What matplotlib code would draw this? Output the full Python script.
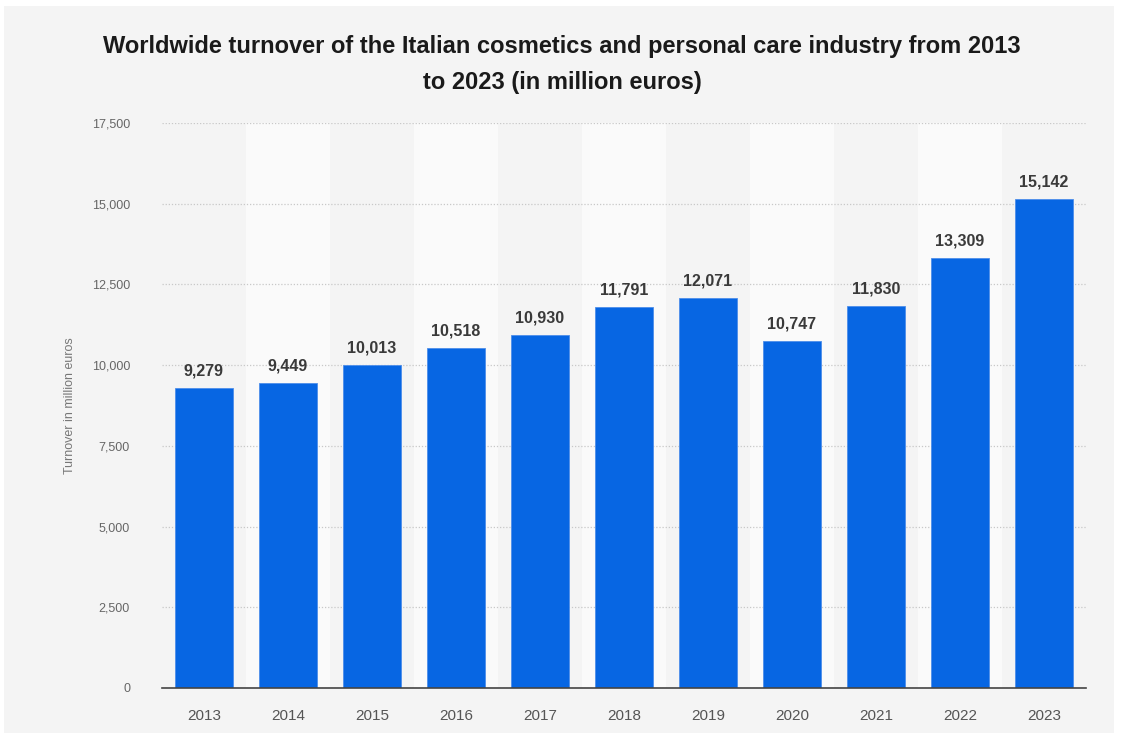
import matplotlib.pyplot as plt
from matplotlib.patches import Rectangle
from matplotlib.ticker import FuncFormatter

years = ['2013', '2014', '2015', '2016', '2017', '2018', '2019', '2020', '2021', '2022', '2023']
turnover = [9279, 9449, 10013, 10518, 10930, 11791, 12071, 10747, 11830, 13309, 15142]
yticks = [0, 2500, 5000, 7500, 10000, 12500, 15000, 17500]

plt.rcParams['font.family'] = ['Liberation Sans', 'DejaVu Sans']

fig = plt.figure(figsize=(11.24, 7.33), dpi=100)
fig.patch.set_facecolor('white')
# grey card behind everything
fig.patches.append(Rectangle((4 / 1124, 0), 1110 / 1124, 727 / 733,
                             transform=fig.transFigure, facecolor='#f4f4f4',
                             edgecolor='none', zorder=-10))

ax = fig.add_axes([162 / 1124, 45 / 733, 924 / 1124, 565 / 733])
ax.set_facecolor('none')

x = range(len(years))
# lighter bands behind every other column
for i in x:
    if i % 2 == 1:
        ax.axvspan(i - 0.5, i + 0.5, color='#fafafa', zorder=0, lw=0)

ax.bar(x, turnover, width=0.69, color='#0766e3', edgecolor='#4d8eea',
       linewidth=0.6, zorder=3)
for i, v in zip(x, turnover):
    ax.text(i, v + 300, f'{v:,}', ha='center', va='bottom', fontsize=11.5,
            fontweight='bold', color='#3a3a3a', zorder=4)

ax.set_xlim(-0.5, len(years) - 0.5)
ax.set_ylim(0, 17500)
ax.set_yticks(yticks)
ax.yaxis.set_major_formatter(FuncFormatter(lambda v, p: f'{int(v):,}'))
ax.set_xticks(list(x))
ax.set_xticklabels(years)
ax.grid(axis='y', linestyle=(0, (1, 1.5)), color='#c8c8c8', linewidth=0.9, zorder=1)
ax.tick_params(axis='y', length=0, pad=23, labelsize=9, labelcolor='#666666')
ax.tick_params(axis='x', length=0, pad=15, labelsize=11, labelcolor='#555555')
for s in ['top', 'right', 'left']:
    ax.spines[s].set_visible(False)
ax.spines['bottom'].set_color('#444444')
ax.spines['bottom'].set_linewidth(1.2)
ax.spines['bottom'].set_zorder(5)

ax.set_ylabel('Turnover in million euros', fontsize=9, color='#777777', labelpad=11)

fig.text(0.5, 686 / 733, 'Worldwide turnover of the Italian cosmetics and personal care industry from 2013',
         ha='center', va='center', fontsize=17, fontweight='bold', color='#1a1a1a')
fig.text(0.5, 651 / 733, 'to 2023 (in million euros)',
         ha='center', va='center', fontsize=17, fontweight='bold', color='#1a1a1a')

fig.savefig('out.png', dpi=100, facecolor=fig.get_facecolor())
